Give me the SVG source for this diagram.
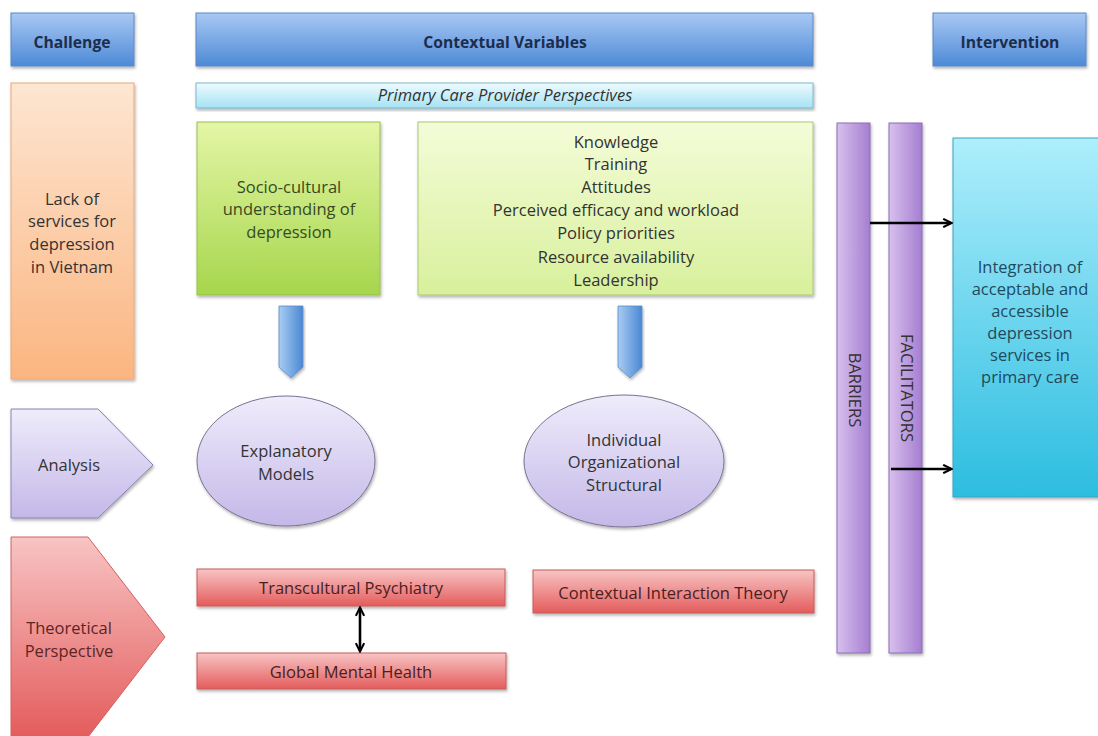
<svg xmlns="http://www.w3.org/2000/svg" width="1098" height="736" viewBox="0 0 1098 736">
<defs>
<linearGradient id="gBlue" x1="0" y1="0" x2="0" y2="1"><stop offset="0" stop-color="#a9c8f4"/><stop offset="1" stop-color="#4d8ad6"/></linearGradient>
<linearGradient id="gCyanLight" x1="0" y1="0" x2="0" y2="1"><stop offset="0" stop-color="#eefbfe"/><stop offset="1" stop-color="#a6e2f4"/></linearGradient>
<linearGradient id="gOrange" x1="0" y1="0" x2="0" y2="1"><stop offset="0" stop-color="#fde6d2"/><stop offset="1" stop-color="#fbb580"/></linearGradient>
<linearGradient id="gGreen" x1="0" y1="0" x2="0" y2="1"><stop offset="0" stop-color="#e4f6a6"/><stop offset="1" stop-color="#a6d64c"/></linearGradient>
<linearGradient id="gGreenLight" x1="0" y1="0" x2="0" y2="1"><stop offset="0" stop-color="#f4fcd8"/><stop offset="1" stop-color="#d8f09c"/></linearGradient>
<linearGradient id="gArrow" x1="0" y1="0" x2="1" y2="0"><stop offset="0" stop-color="#a8ccf2"/><stop offset="1" stop-color="#4a88d4"/></linearGradient>
<linearGradient id="gLav" x1="0" y1="0" x2="0" y2="1"><stop offset="0" stop-color="#efecfb"/><stop offset="1" stop-color="#c4b8e8"/></linearGradient>
<linearGradient id="gRed" x1="0" y1="0" x2="0" y2="1"><stop offset="0" stop-color="#f8c4c4"/><stop offset="1" stop-color="#e45c5c"/></linearGradient>
<linearGradient id="gPurple" x1="0" y1="0" x2="1" y2="0"><stop offset="0" stop-color="#d8c0ee"/><stop offset="1" stop-color="#a57ed0"/></linearGradient>
<linearGradient id="gCyan" x1="0" y1="0" x2="0" y2="1"><stop offset="0" stop-color="#aeeefc"/><stop offset="1" stop-color="#2cbde0"/></linearGradient>
<filter id="sh" x="-10%" y="-10%" width="120%" height="125%"><feDropShadow dx="1" dy="2" stdDeviation="1.5" flood-color="#000" flood-opacity="0.3"/></filter>
<marker id="ah" viewBox="0 0 10 10" refX="8.5" refY="5" markerWidth="4" markerHeight="4" orient="auto-start-reverse"><path d="M1,1 L9,5 L1,9" fill="none" stroke="#000" stroke-width="2"/></marker>
</defs>
<style>
text{font-family:"Open Sans","Liberation Sans",sans-serif;font-size:16.5px;text-anchor:middle;dominant-baseline:middle}
.hd{font-weight:bold;fill:#1c2d4e;font-size:15.7px}
.tx{fill:#333}
.bx{filter:url(#sh)}
.ar{stroke:#000;stroke-width:2.6;fill:none}
</style>
<rect width="1098" height="736" fill="#fff"/>
<g id="challenge"><rect class="bx" x="11" y="13" width="123" height="53" fill="url(#gBlue)" stroke="#5b88c4"/><text class="hd" x="72" y="44">Challenge</text></g>
<g id="contextual"><rect class="bx" x="196" y="13" width="617" height="53" fill="url(#gBlue)" stroke="#5b88c4"/><text class="hd" x="505" y="44">Contextual Variables</text></g>
<g id="intervention-h"><rect class="bx" x="933" y="13" width="153" height="53" fill="url(#gBlue)" stroke="#5b88c4"/><text class="hd" x="1010" y="44">Intervention</text></g>
<g id="pcp"><rect class="bx" x="196" y="83" width="617" height="25" fill="url(#gCyanLight)" stroke="#78b8d0"/><text class="tx" x="505" y="97" font-style="italic">Primary Care Provider Perspectives</text></g>
<g id="lack"><rect class="bx" x="11" y="83" width="123" height="296" fill="url(#gOrange)" stroke="#e9a878"/><text class="tx" x="72" y="201">Lack of</text><text class="tx" x="72" y="223">services for</text><text class="tx" x="72" y="246">depression</text><text class="tx" x="72" y="269">in Vietnam</text></g>
<g id="socio"><rect class="bx" x="197" y="122" width="183" height="173" fill="url(#gGreen)" stroke="#98c050"/><text x="289" y="189" fill="#384a22">Socio-cultural</text><text x="289" y="211" fill="#384a22">understanding of</text><text x="289" y="234" fill="#384a22">depression</text></g>
<g id="factors"><rect class="bx" x="418" y="122" width="395" height="173" fill="url(#gGreenLight)" stroke="#a8c878"/>
<text class="tx" x="616" y="144">Knowledge</text><text class="tx" x="616" y="166">Training</text><text class="tx" x="616" y="189">Attitudes</text><text class="tx" x="616" y="212">Perceived efficacy and workload</text><text class="tx" x="616" y="235">Policy priorities</text><text class="tx" x="616" y="259">Resource availability</text><text class="tx" x="616" y="282">Leadership</text></g>
<g id="barriers"><rect class="bx" x="837" y="123" width="33" height="530" fill="url(#gPurple)" stroke="#8c6cb4"/><text class="tx" transform="translate(853,390) rotate(90)" font-size="15.8">BARRIERS</text></g>
<g id="facilitators"><rect class="bx" x="889" y="123" width="33" height="530" fill="url(#gPurple)" stroke="#8c6cb4"/><text class="tx" transform="translate(905,388) rotate(90)" font-size="15.8">FACILITATORS</text></g>
<g id="integration"><rect class="bx" x="953" y="138" width="150" height="359" fill="url(#gCyan)" stroke="#36a4c4"/>
<text x="1030" y="269" fill="#1e4a5e">Integration of</text><text x="1030" y="291" fill="#1e4a5e">acceptable and</text><text x="1030" y="313" fill="#1e4a5e">accessible</text><text x="1030" y="335" fill="#1e4a5e">depression</text><text x="1030" y="357" fill="#1e4a5e">services in</text><text x="1030" y="379" fill="#1e4a5e">primary care</text></g>
<g id="analysis"><path class="bx" d="M11,409 H98 L153,465 L98,518 H11 Z" fill="url(#gLav)" stroke="#8a82b2"/><text class="tx" x="69" y="467">Analysis</text></g>
<g id="explanatory"><ellipse class="bx" cx="286" cy="461" rx="89" ry="65" fill="url(#gLav)" stroke="#7a7292"/><text class="tx" x="286" y="453">Explanatory</text><text class="tx" x="286" y="476">Models</text></g>
<g id="ios"><ellipse class="bx" cx="624" cy="461" rx="100" ry="66" fill="url(#gLav)" stroke="#7a7292"/><text class="tx" x="624" y="442">Individual</text><text class="tx" x="624" y="464">Organizational</text><text class="tx" x="624" y="487">Structural</text></g>
<g id="theoretical"><path d="M11,537 H88 L165,637 L88,737 H11 Z" fill="url(#gRed)" stroke="#d06060"/><text x="69" y="630" fill="#5a2626">Theoretical</text><text x="69" y="653" fill="#5a2626">Perspective</text></g>
<g id="transcultural"><rect class="bx" x="197" y="569" width="308" height="37" fill="url(#gRed)" stroke="#c85a5a"/><text x="351" y="590" fill="#4a2020">Transcultural Psychiatry</text></g>
<g id="global"><rect class="bx" x="197" y="653" width="309" height="36" fill="url(#gRed)" stroke="#c85a5a"/><text x="351" y="674" fill="#4a2020">Global Mental Health</text></g>
<g id="cit"><rect class="bx" x="533" y="570" width="281" height="43" fill="url(#gRed)" stroke="#c85a5a"/><text x="673" y="595" fill="#4a2020">Contextual Interaction Theory</text></g>
<g id="connectors">
<path class="bx" d="M279,306 H303 V367 L291,378 L279,367 Z" fill="url(#gArrow)" stroke="#5a8cc8" stroke-width="0.8"/>
<path class="bx" d="M618,306 H642 V367 L630,378 L618,367 Z" fill="url(#gArrow)" stroke="#5a8cc8" stroke-width="0.8"/>
<line class="ar" x1="870" y1="223" x2="951" y2="223" marker-end="url(#ah)"/>
<line class="ar" x1="891" y1="469" x2="951" y2="469" marker-end="url(#ah)"/>
<line class="ar" x1="360" y1="608" x2="360" y2="651" marker-start="url(#ah)" marker-end="url(#ah)"/>
</g>
</svg>
